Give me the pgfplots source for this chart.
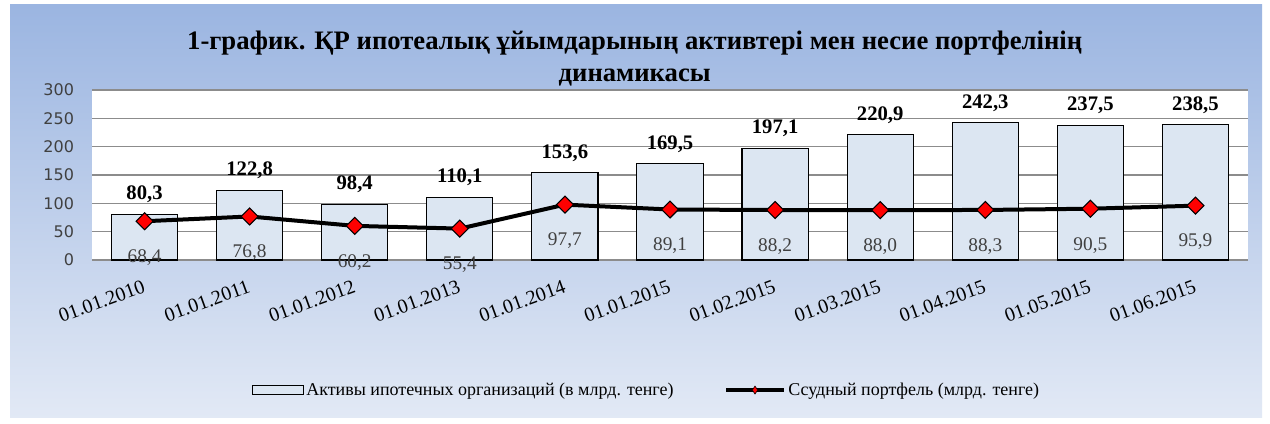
\documentclass[border=0pt]{standalone}
\usepackage{fontspec}
\setmainfont{Liberation Serif}
\newfontfamily\tickfont{DejaVu Sans}
\newfontfamily\serfont{Liberation Serif}
\usepackage{pgfplots}
\pgfplotsset{compat=1.18}
\definecolor{barfill}{HTML}{DCE6F2}
\definecolor{gridc}{HTML}{8C8C8C}
\definecolor{bgtop}{HTML}{9BB5E1}
\definecolor{bgbot}{HTML}{E2E9F5}
\definecolor{lbl}{HTML}{404040}
\begin{document}
\begin{tikzpicture}
\fill[white] (0pt,0pt) rectangle (952.5pt,318pt);
\shade[top color=bgtop, bottom color=bgbot] (7.5pt,4.5pt) rectangle (946.5pt,314.25pt);
\node[font=\serfont\bfseries\fontsize{20}{24}\selectfont, align=center] at (476pt,274pt)
  {1-график. ҚР ипотеалық ұйымдарының активтері мен несие портфелінің\\динамикасы};
\begin{axis}[
  at={(69pt,123pt)}, anchor=south west,
  scale only axis, width=867pt, height=127.5pt,
  xmin=-0.5, xmax=10.5, ymin=0, ymax=300,
  clip=false,
  axis line style={draw=none},
  axis background/.style={fill=white},
  major tick length=0pt,
  ymajorgrids, major grid style={gridc, line width=1pt},
  ytick={0,50,100,150,200,250,300},
  yticklabels={0,50,100,150,200,250,300},
  yticklabel style={font=\tickfont\fontsize{12}{14}\selectfont, text=lbl, xshift=-10pt},
  xtick={0,...,10},
  xticklabels={01.01.2010,01.01.2011,01.01.2012,01.01.2013,01.01.2014,01.01.2015,01.02.2015,01.03.2015,01.04.2015,01.05.2015,01.06.2015},
  xticklabel style={font=\serfont\fontsize{15}{17}\selectfont, yshift=-10pt, xshift=0pt, rotate=20, anchor=north east},
  legend style={at={(0.48,-0.765)}, anchor=center, draw=none, fill=none,
    legend columns=2, font=\serfont\fontsize{13.5}{15}\selectfont,
    /tikz/every even column/.append style={column sep=36pt}},
  legend cell align=left,
]
\addplot[ybar, bar width=0.63, fill=barfill, draw=black, line width=0.8pt,
  point meta=explicit symbolic, nodes near coords,
  every node near coord/.style={font=\serfont\bfseries\fontsize{15.5}{17}\selectfont, anchor=base, yshift=11pt, text=black},
  legend image code/.code={\draw[fill=barfill, draw=black, line width=0.8pt] (0pt,-3.5pt) rectangle (38pt,3.5pt);}]
coordinates {
(0,80.3) [80,3]
(1,122.8) [122,8]
(2,98.4) [98,4]
(3,110.1) [110,1]
(4,153.6) [153,6]
(5,169.5) [169,5]
(6,197.1) [197,1]
(7,220.9) [220,9]
(8,242.3) [242,3]
(9,237.5) [237,5]
(10,238.5) [238,5]
};
\addlegendentry{Активы ипотечных организаций (в млрд. тенге)}
\addplot[black, line width=3pt, mark=square*, mark size=4.5pt,
  mark options={fill=red, draw=black, line width=0.8pt, rotate=45},
  point meta=explicit symbolic, nodes near coords,
  every node near coord/.style={font=\serfont\fontsize{14.5}{16}\selectfont, text=lbl, anchor=base, yshift=-31pt},
  legend image code/.code={\draw[black, line width=3pt] (0pt,0pt) -- (43pt,0pt);
    \filldraw[fill=red, draw=black, line width=0.4pt] (21.5pt,3pt) -- (23.5pt,0pt) -- (21.5pt,-3pt) -- (19.5pt,0pt) -- cycle;}]
coordinates {
(0,68.4) [68,4]
(1,76.8) [76,8]
(2,60.2) [60,2]
(3,55.4) [55,4]
(4,97.7) [97,7]
(5,89.1) [89,1]
(6,88.2) [88,2]
(7,88.0) [88,0]
(8,88.3) [88,3]
(9,90.5) [90,5]
(10,95.9) [95,9]
};
\addlegendentry{Ссудный портфель (млрд. тенге)}
\end{axis}
\end{tikzpicture}
\end{document}
